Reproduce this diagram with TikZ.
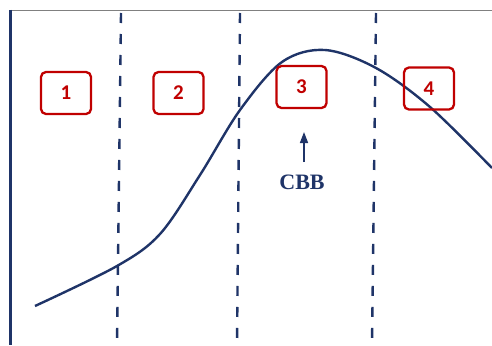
\documentclass[tikz,border=0pt]{standalone}
\usepackage{fontspec}
\setmainfont{Liberation Serif}
\newfontfamily\numfont{Carlito}
\usetikzlibrary{arrows.meta}
\definecolor{navy}{RGB}{31,52,104}
\definecolor{boxred}{RGB}{192,0,0}
\definecolor{topgray}{RGB}{128,128,128}
\tikzset{
  phasebox/.style={draw=boxred, line width=2.3pt, rounded corners=5pt, minimum width=50pt, minimum height=42pt, text=boxred, font=\numfont\bfseries\fontsize{21}{21}\selectfont, inner sep=0pt},
  divider/.style={draw=navy, line width=2.4pt, dash pattern=on 10pt off 11pt},
  curve/.style={draw=navy, line width=2.4pt},
}
\begin{document}
\begin{tikzpicture}[x=1pt,y=-1pt]
\useasboundingbox (0,0) rectangle (492,345);
\fill[white] (0,0) rectangle (492,345);
% frame
\coordinate (tl) at (10,10.5);
\coordinate (tr) at (492,10.5);
\coordinate (bl) at (10.5,345);
\draw[topgray, line width=1.5pt] (tl) -- (tr);
\draw[navy, line width=2.5pt] (10.5,10) -- (bl);
% dividers
\coordinate (d1t) at (121,13); \coordinate (d1b) at (117,345);
\coordinate (d2t) at (240,13); \coordinate (d2b) at (237,345);
\coordinate (d3t) at (376,13); \coordinate (d3b) at (372,345);
\draw[divider] (d1t) -- (d1b);
\draw[divider] (d2t) -- (d2b);
\draw[divider] (d3t) -- (d3b);
% curve
\draw[curve] plot[smooth, tension=0.55] coordinates {(35,306) (117,266) (160,234) (200,175) (240,110) (282,62) (325,50) (376,68) (430,107) (492,168)};
% boxes
\node[phasebox] (b1) at (66,93) {1};
\node[phasebox] (b2) at (178.5,93) {2};
\node[phasebox] (b3) at (301.5,87) {3};
\node[phasebox] (b4) at (429,88.5) {4};
% CBB
\node[text=navy, font=\bfseries\fontsize{22}{22}\selectfont, inner sep=0pt] (cbb) at (302,182) {CBB};
\coordinate (arrtop) at (304,132);
\coordinate (arrbot) at (304,162);
\draw[navy, line width=1.5pt, -{Triangle[width=8pt,length=11pt]}] (arrbot) -- (arrtop);
\end{tikzpicture}
\end{document}
